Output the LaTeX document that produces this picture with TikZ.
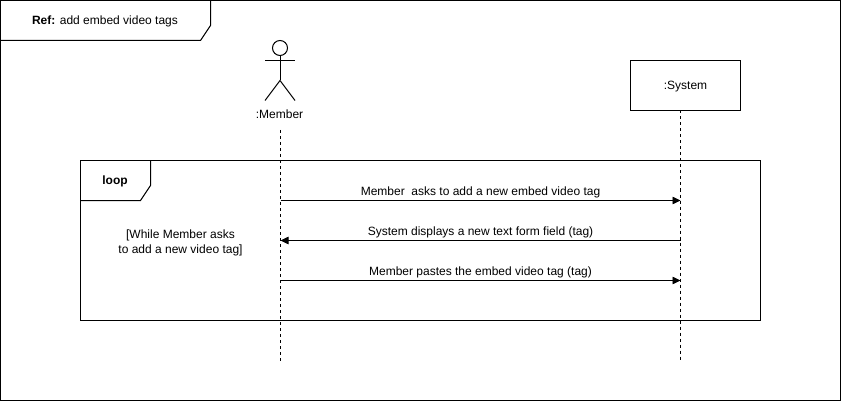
\documentclass[tikz,border=0pt]{standalone}
\usepackage{fontspec}
\setmainfont{Liberation Sans}
\usetikzlibrary{arrows.meta}
\tikzset{
	frame/.style={draw=black, line width=1pt},
	lifeline/.style={draw=black, line width=.8pt, dash pattern=on 3pt off 3pt},
	message/.style={draw=black, line width=.8pt, -{Triangle[length=8pt,width=7.5pt]}},
	label/.style={font=\fontsize{12}{15}\selectfont, inner sep=0pt, align=center}
}
\begin{document}
\begin{tikzpicture}[x=1pt, y=-1pt, line join=miter]
	\useasboundingbox (0,0) rectangle (841,401);
	\def\xmember{280.5}\def\xsystem{680.5}\def\xactor{280}\def\yend{360.5}
	% outer frame and its tab
	\draw[frame] (0.5,0.5) rectangle (840.5,400.5);
	\draw[frame] (210.5,0.5)--(210.5,25.5)--(200.5,40.5)--(0.5,40.5);
	\node[label] (ref) at (105,21.5) {\textbf{Ref:} add embed video tags};
	% loop frame and its tab
	\draw[frame] (80.5,160.5) rectangle (760.5,320.5);
	\draw[frame] (150.5,160.5)--(150.5,185.5)--(140.5,200.5)--(80.5,200.5);
	\node[label] (loop) at (115,181.5) {\textbf{loop}};
	\node[label] (guard) at (180.5,242.5) {[While Member asks\\to add a new video tag]};
	% actor
	\draw[frame] (\xactor,48) circle (7.5);
	\draw[frame] (\xactor,55.5)--(\xactor,80.5);
	\draw[frame] (265,60.5)--(295,60.5);
	\draw[frame] (265,100.5)--(\xactor,80.5)--(295,100.5);
	\node[label] (member) at (279.5,114) {:Member};
	% system box
	\node[draw=black, line width=1pt, minimum width=110pt, minimum height=50pt] (system) at (685.5,85.5) {};
	\node[label] (systemname) at (685.5,87) {:System};
	% lifelines
	\coordinate (memberstart) at (\xmember,130);
	\coordinate (memberend) at (\xmember,\yend);
	\coordinate (systemstart) at (\xsystem,110.5);
	\coordinate (systemend) at (\xsystem,\yend);
	\draw[lifeline] (memberstart)--(memberend);
	\draw[lifeline] (systemstart)--(systemend);
	% messages
	\foreach \n/\y in {a/200.5,b/240.5,c/280.5}{
		\coordinate (m\n) at (\xmember,\y);
		\coordinate (s\n) at (\xsystem,\y);
	}
	\draw[message] (ma)--(sa);
	\draw[message] (sb)--(mb);
	\draw[message] (mc)--(sc);
	\node[label] (asks) at (480.5,192) {Member\ \ asks to add a new embed video tag};
	\node[label] (displays) at (480.5,232) {System displays a new text form field (tag)};
	\node[label] (pastes) at (480.5,272) {Member pastes the embed video tag (tag)};
\end{tikzpicture}
\end{document}
